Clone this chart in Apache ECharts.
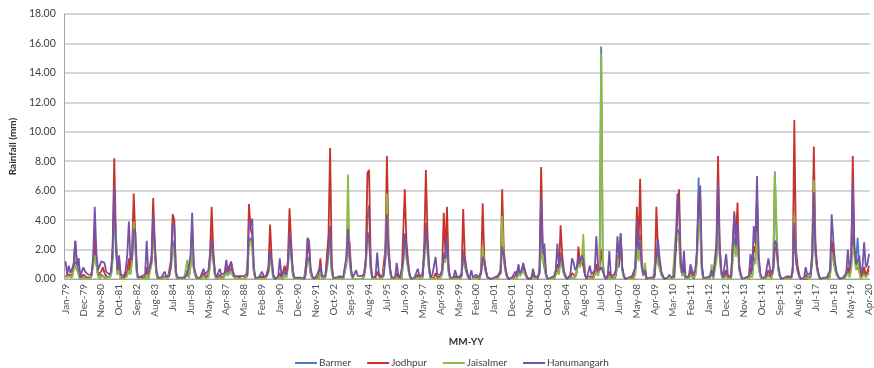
<!DOCTYPE html>
<html>
<head>
<meta charset="utf-8">
<script src="https://cdn.jsdelivr.net/npm/echarts@6/dist/echarts.min.js"></script>
<style>
  html, body { margin: 0; padding: 0; background: #ffffff; }
  #chart { width: 874px; height: 368px; }
</style>
</head>
<body>
<div id="chart"></div>
<script>
// Monthly rainfall (mm), Jan-1979 .. Apr-2020, one row per year
const monthNames = ['Jan','Feb','Mar','Apr','May','Jun','Jul','Aug','Sep','Oct','Nov','Dec'];
const firstYear = 1979;
const lastYear = 2020;
const lastMonth = 4; // Apr-20

const barmer = [
  0.1,0.0,0.2,0.1,0.1,0.7,1.2,1.0,0.3,0.0,0.0,0.1, // 1979
  0.0,0.0,0.0,0.0,0.2,1.0,2.0,1.1,0.2,0.1,0.3,0.4, // 1980
  0.1,0.1,0.1,0.0,0.2,1.5,5.2,2.5,0.3,0.8,0.0,0.1, // 1981
  0.0,0.1,0.3,0.8,0.4,1.5,4.5,2.2,0.2,0.0,0.0,0.0, // 1982
  0.0,0.0,0.4,0.0,0.1,1.2,3.6,1.8,0.3,0.0,0.0,0.0, // 1983
  0.0,0.1,0.0,0.0,0.1,0.9,2.6,2.0,0.3,0.0,0.0,0.0, // 1984
  0.0,0.0,0.0,0.6,0.1,0.9,2.6,0.7,0.2,0.0,0.0,0.0, // 1985
  0.0,0.2,0.0,0.0,0.2,1.0,3.0,1.5,0.2,0.0,0.0,0.1, // 1986
  0.0,0.0,0.1,0.5,0.3,0.4,0.7,0.3,0.1,0.0,0.0,0.0, // 1987
  0.0,0.0,0.0,0.0,0.2,2.6,2.8,2.3,0.5,0.0,0.0,0.0, // 1988
  0.0,0.1,0.0,0.0,0.1,0.5,2.0,0.9,0.1,0.0,0.0,0.0, // 1989
  0.1,0.0,0.0,0.4,0.1,0.9,2.8,1.8,0.3,0.0,0.0,0.0, // 1990
  0.0,0.0,0.0,0.0,0.1,1.2,1.5,0.4,0.1,0.0,0.0,0.0, // 1991
  0.0,0.6,0.0,0.0,0.1,0.8,1.8,3.2,0.5,0.0,0.0,0.0, // 1992
  0.0,0.0,0.1,0.0,0.1,1.0,3.8,1.2,0.3,0.0,0.0,0.0, // 1993
  0.0,0.0,0.0,0.0,0.1,1.0,4.2,5.0,0.7,0.0,0.0,0.0, // 1994
  0.1,0.0,0.0,0.0,0.1,1.4,5.0,1.8,0.4,0.0,0.0,0.0, // 1995
  0.1,0.0,0.0,0.0,1.3,3.0,1.6,0.8,0.2,0.0,0.0,0.0, // 1996
  0.0,0.2,0.0,0.0,0.1,1.5,3.8,2.0,0.5,0.0,0.0,0.0, // 1997
  0.1,0.0,0.0,0.1,0.3,1.8,1.3,2.6,0.5,0.0,0.0,0.0, // 1998
  0.0,0.0,0.0,0.0,0.2,2.0,0.9,0.5,0.1,0.0,0.0,0.0, // 1999
  0.0,0.0,0.0,0.0,0.3,2.0,1.0,0.4,0.1,0.0,0.0,0.0, // 2000
  0.0,0.0,0.0,0.0,0.4,3.6,1.4,0.6,0.1,0.0,0.0,0.0, // 2001
  0.0,0.1,0.0,0.5,0.2,0.4,0.7,0.4,0.1,0.0,0.0,0.0, // 2002
  0.1,0.0,0.0,0.0,0.4,3.0,1.3,1.2,0.2,0.0,0.0,0.0, // 2003
  0.0,0.0,0.1,0.6,0.4,1.8,1.0,0.4,0.1,0.0,0.0,0.0, // 2004
  0.1,0.1,0.1,0.2,1.2,0.9,1.3,1.8,0.3,0.0,0.0,0.1, // 2005
  0.0,0.0,0.1,0.6,0.3,0.8,15.8,1.2,0.1,0.0,0.0,0.2, // 2006
  0.0,0.0,0.0,0.2,1.0,0.8,2.8,0.6,0.1,0.0,0.0,0.0, // 2007
  0.0,0.0,0.0,0.4,2.6,1.4,3.0,0.8,0.2,0.7,0.0,0.0, // 2008
  0.0,0.0,0.0,0.1,2.0,1.2,0.8,0.3,0.1,0.0,0.0,0.0, // 2009
  0.0,0.0,0.0,0.1,2.2,3.4,3.0,0.8,0.2,0.6,0.0,0.0, // 2010
  0.0,0.4,0.2,0.0,0.3,1.4,6.9,4.0,0.6,0.0,0.0,0.0, // 2011
  0.0,0.0,0.6,0.0,0.1,1.5,5.0,1.7,0.4,0.0,0.0,0.3, // 2012
  0.0,0.0,0.0,0.0,2.8,1.8,3.4,0.7,0.2,0.0,0.0,0.0, // 2013
  0.0,0.0,0.4,0.1,1.4,1.2,3.8,0.9,0.2,0.0,0.0,0.0, // 2014
  0.0,0.3,0.1,0.0,0.7,7.3,3.0,0.7,0.2,0.0,0.0,0.0, // 2015
  0.0,0.0,0.0,0.0,0.5,4.0,1.4,0.6,0.2,0.0,0.0,0.0, // 2016
  0.1,0.0,0.0,0.1,1.2,6.0,1.8,0.7,0.2,0.0,0.0,0.0, // 2017
  0.0,0.0,0.0,0.2,2.2,1.4,0.8,0.3,0.1,0.0,0.0,0.0, // 2018
  0.0,0.1,0.5,0.2,0.8,3.0,1.8,1.2,2.8,0.8,0.1,0.2, // 2019
  0.5,0.2,0.3,0.6                                  // 2020
];

const jodhpur = [
  0.2,0.1,0.3,0.2,0.2,1.0,2.6,1.0,1.4,0.0,0.1,0.3, // 1979
  0.2,0.1,0.1,0.1,0.3,1.2,3.0,1.2,0.3,0.2,0.5,0.8, // 1980
  0.4,0.2,0.2,0.1,0.3,2.2,8.2,3.0,0.5,1.2,0.1,0.2, // 1981
  0.1,0.2,0.5,1.4,0.6,2.0,5.8,2.8,0.3,0.0,0.0,0.1, // 1982
  0.1,0.1,0.8,0.1,0.2,1.6,5.5,2.4,0.4,0.0,0.0,0.0, // 1983
  0.0,0.2,0.1,0.0,0.1,1.3,4.4,4.0,0.4,0.0,0.0,0.0, // 1984
  0.0,0.0,0.0,0.4,0.1,1.2,3.6,0.8,0.3,0.0,0.0,0.0, // 1985
  0.1,0.4,0.1,0.1,0.3,1.8,4.9,2.0,0.4,0.0,0.0,0.3, // 1986
  0.1,0.1,0.2,0.8,0.5,0.7,1.2,0.6,0.2,0.0,0.1,0.1, // 1987
  0.1,0.0,0.1,0.1,0.3,5.1,3.4,3.0,0.6,0.0,0.0,0.0, // 1988
  0.1,0.2,0.1,0.0,0.1,0.8,3.7,1.4,0.2,0.0,0.0,0.1, // 1989
  0.4,0.1,0.1,0.9,0.2,1.3,4.8,2.5,0.5,0.0,0.0,0.0, // 1990
  0.0,0.0,0.0,0.0,0.1,1.8,2.4,0.5,0.1,0.0,0.0,0.1, // 1991
  0.2,1.4,0.1,0.0,0.1,1.5,3.0,8.9,1.0,0.0,0.0,0.0, // 1992
  0.0,0.1,0.1,0.0,0.1,1.2,2.8,2.5,0.5,0.0,0.0,0.0, // 1993
  0.1,0.0,0.1,0.0,0.2,1.5,7.2,7.4,1.2,0.0,0.0,0.1, // 1994
  0.5,0.2,0.1,0.0,0.1,2.0,8.35,2.5,0.7,0.0,0.0,0.0, // 1995
  0.4,0.1,0.0,0.1,3.0,6.1,2.6,1.2,0.3,0.0,0.0,0.0, // 1996
  0.0,0.3,0.1,0.0,0.2,2.4,7.4,3.0,0.8,0.0,0.1,0.1, // 1997
  0.4,0.1,0.1,0.2,0.6,4.5,1.8,4.9,0.8,0.0,0.0,0.0, // 1998
  0.2,0.1,0.0,0.0,0.4,4.75,1.5,0.7,0.2,0.0,0.0,0.0, // 1999
  0.1,0.1,0.0,0.0,0.6,5.15,1.4,0.6,0.1,0.0,0.0,0.0, // 2000
  0.0,0.0,0.1,0.0,0.6,6.1,2.0,0.8,0.2,0.0,0.0,0.0, // 2001
  0.1,0.2,0.1,0.7,0.3,0.5,1.0,0.6,0.2,0.0,0.0,0.0, // 2002
  0.3,0.1,0.0,0.0,0.7,7.6,2.0,1.6,0.3,0.0,0.0,0.0, // 2003
  0.0,0.1,0.2,1.0,0.6,3.65,1.6,0.6,0.2,0.0,0.0,0.1, // 2004
  0.4,0.3,0.2,0.4,2.2,1.0,1.4,1.5,0.3,0.0,0.0,0.2, // 2005
  0.1,0.1,0.2,1.0,0.4,0.8,2.0,0.9,0.2,0.0,0.0,0.5, // 2006
  0.1,0.0,0.1,0.3,1.6,1.0,2.6,0.7,0.2,0.0,0.0,0.0, // 2007
  0.0,0.1,0.0,0.6,4.9,2.2,6.8,1.2,0.3,0.5,0.0,0.0, // 2008
  0.0,0.1,0.0,0.2,4.9,2.0,1.2,0.5,0.2,0.0,0.0,0.0, // 2009
  0.1,0.0,0.0,0.1,2.0,4.4,6.1,1.2,0.3,0.9,0.0,0.0, // 2010
  0.1,0.6,0.3,0.1,0.4,2.0,5.0,5.6,0.8,0.0,0.0,0.0, // 2011
  0.0,0.1,0.5,0.1,0.2,2.4,8.35,2.4,0.6,0.0,0.0,0.6, // 2012
  0.1,0.1,0.0,0.1,4.6,2.6,5.2,1.0,0.3,0.0,0.0,0.0, // 2013
  0.0,0.1,0.8,0.3,2.2,1.8,5.6,1.4,0.3,0.0,0.0,0.0, // 2014
  0.1,0.6,0.3,0.1,0.6,2.0,2.2,0.8,0.2,0.0,0.0,0.0, // 2015
  0.0,0.1,0.0,0.0,0.8,10.8,2.0,0.9,0.3,0.0,0.0,0.0, // 2016
  0.3,0.1,0.1,0.2,1.8,9.0,2.4,0.9,0.3,0.0,0.0,0.0, // 2017
  0.1,0.0,0.1,0.3,2.6,1.8,1.0,0.4,0.1,0.0,0.0,0.0, // 2018
  0.1,0.2,0.8,0.3,1.0,8.35,2.0,0.8,0.9,0.6,0.1,0.2, // 2019
  0.8,0.3,0.5,0.9                                  // 2020
];

const jaisalmer = [
  0.1,0.0,0.2,0.1,0.1,0.6,0.9,0.8,0.3,0.0,0.0,0.1, // 1979
  0.0,0.0,0.0,0.0,0.1,0.8,1.6,0.9,0.2,0.0,0.2,0.3, // 1980
  0.1,0.1,0.1,0.0,0.2,1.2,4.0,3.1,0.3,0.6,0.0,0.1, // 1981
  0.0,0.1,0.2,0.6,0.3,1.2,3.9,2.0,0.2,0.0,0.0,0.0, // 1982
  0.0,0.0,0.3,0.0,0.1,1.0,3.1,1.6,0.3,0.0,0.0,0.0, // 1983
  0.0,0.1,0.0,0.0,0.1,0.7,2.2,1.6,0.2,0.0,0.0,0.0, // 1984
  0.0,0.0,0.0,1.3,0.1,0.8,2.4,0.6,0.2,0.0,0.0,0.0, // 1985
  0.0,0.2,0.0,0.0,0.1,0.8,2.5,1.2,0.2,0.0,0.0,0.1, // 1986
  0.0,0.0,0.1,0.4,0.2,0.3,0.5,0.2,0.1,0.0,0.0,0.0, // 1987
  0.0,0.0,0.0,0.0,0.1,2.2,2.6,2.0,0.4,0.0,0.0,0.0, // 1988
  0.0,0.0,0.0,0.0,0.1,0.4,1.6,0.7,0.1,0.0,0.0,0.0, // 1989
  0.1,0.0,0.0,0.3,0.1,0.7,2.2,1.5,0.3,0.0,0.0,0.0, // 1990
  0.0,0.0,0.0,0.0,0.1,1.0,1.2,0.3,0.0,0.0,0.0,0.0, // 1991
  0.0,0.5,0.0,0.0,0.1,0.6,1.5,2.8,0.4,0.0,0.0,0.0, // 1992
  0.0,0.0,0.1,0.0,0.1,0.9,7.1,1.4,0.3,0.0,0.0,0.0, // 1993
  0.0,0.0,0.0,0.0,0.1,0.8,3.0,2.6,0.6,0.0,0.0,0.0, // 1994
  0.1,0.0,0.0,0.0,0.1,1.2,5.8,1.6,0.4,0.0,0.0,0.0, // 1995
  0.1,0.0,0.0,0.0,1.0,2.6,1.4,0.7,0.2,0.0,0.0,0.0, // 1996
  0.0,0.1,0.0,0.0,0.1,1.2,3.0,1.8,0.5,0.0,0.0,0.0, // 1997
  0.1,0.0,0.0,0.1,0.3,1.4,1.1,2.5,0.4,0.0,0.0,0.0, // 1998
  0.0,0.0,0.0,0.0,0.2,1.6,0.8,0.4,0.1,0.0,0.0,0.0, // 1999
  0.0,0.0,0.0,0.0,0.4,2.3,1.0,0.4,0.1,0.0,0.0,0.0, // 2000
  0.0,0.0,0.0,0.0,0.4,4.3,1.3,0.5,0.1,0.0,0.0,0.0, // 2001
  0.0,0.1,0.0,0.4,0.2,0.3,0.6,0.3,0.1,0.0,0.0,0.0, // 2002
  0.1,0.0,0.0,0.0,0.3,2.5,1.2,1.0,0.2,0.0,0.0,0.0, // 2003
  0.0,0.0,0.1,0.5,0.3,1.5,0.8,0.3,0.1,0.0,0.0,0.0, // 2004
  0.1,0.1,0.1,0.2,1.0,0.8,1.2,3.05,0.3,0.0,0.0,0.1, // 2005
  0.0,0.0,0.1,0.5,0.2,0.6,15.3,1.0,0.1,0.0,0.0,0.2, // 2006
  0.0,0.0,0.0,0.1,0.8,0.7,3.1,0.6,0.1,0.0,0.0,0.0, // 2007
  0.0,0.0,0.0,0.3,2.2,1.2,2.6,0.7,0.2,1.1,0.0,0.0, // 2008
  0.0,0.0,0.0,0.1,1.6,1.0,0.7,0.3,0.1,0.0,0.0,0.0, // 2009
  0.0,0.0,0.0,0.1,3.2,3.0,2.4,0.7,0.2,0.4,0.0,0.0, // 2010
  0.0,0.3,0.1,0.0,0.2,1.1,4.0,3.2,0.5,0.0,0.0,0.0, // 2011
  0.0,0.0,1.0,0.0,0.1,1.2,4.2,1.4,0.3,0.0,0.0,0.2, // 2012
  0.0,0.0,0.0,0.0,2.4,1.5,3.0,0.6,0.2,0.0,0.0,0.0, // 2013
  0.0,0.0,0.3,0.1,1.2,1.0,3.2,0.8,0.2,0.0,0.0,0.0, // 2014
  0.0,0.2,0.1,0.0,0.8,7.2,3.8,0.7,0.2,0.0,0.0,0.0, // 2015
  0.0,0.0,0.0,0.0,0.4,4.35,1.2,0.5,0.1,0.0,0.0,0.0, // 2016
  0.1,0.0,0.0,0.1,1.0,6.7,1.6,0.6,0.2,0.0,0.0,0.0, // 2017
  0.0,0.0,0.0,0.1,1.8,1.2,0.6,0.3,0.1,0.0,0.0,0.0, // 2018
  0.0,0.1,0.4,0.1,0.6,2.3,1.6,0.6,1.3,0.4,0.0,0.1, // 2019
  0.3,0.1,0.2,0.4                                  // 2020
];

const hanumangarh = [
  1.2,0.3,0.9,0.4,0.3,1.0,2.6,1.0,1.4,0.1,0.5,0.8, // 1979
  0.5,0.4,0.3,0.2,0.3,1.5,4.9,1.8,0.6,0.9,1.2,1.3, // 1980
  1.1,0.5,0.4,0.3,0.5,1.8,6.3,2.2,0.6,1.6,0.3,0.4, // 1981
  0.2,0.6,1.6,3.9,1.2,1.4,3.4,3.2,0.5,0.1,0.1,0.2, // 1982
  0.2,0.3,2.6,0.4,0.3,1.2,4.4,2.2,0.6,0.1,0.0,0.1, // 1983
  0.1,0.5,0.2,0.1,0.2,1.0,3.8,3.6,0.5,0.1,0.0,0.1, // 1984
  0.1,0.1,0.1,0.3,0.2,1.6,4.5,0.9,0.4,0.1,0.0,0.1, // 1985
  0.2,0.7,0.3,0.2,0.6,1.5,2.7,2.6,0.5,0.1,0.1,0.7, // 1986
  0.3,0.2,0.4,1.3,0.6,0.9,1.1,0.5,0.2,0.1,0.2,0.3, // 1987
  0.2,0.1,0.2,0.3,0.4,3.9,3.6,4.1,0.8,0.1,0.0,0.1, // 1988
  0.3,0.5,0.2,0.1,0.2,0.6,1.9,1.2,0.3,0.0,0.1,0.2, // 1989
  1.4,0.3,0.2,0.5,0.3,1.0,3.1,3.2,0.6,0.1,0.1,0.1, // 1990
  0.1,0.1,0.1,0.0,0.3,2.8,2.6,0.7,0.2,0.0,0.0,0.3, // 1991
  0.3,0.9,0.2,0.1,0.2,1.0,2.0,3.6,0.8,0.1,0.0,0.1, // 1992
  0.1,0.2,0.3,0.1,0.2,1.5,3.4,1.6,0.6,0.1,0.0,0.6, // 1993
  0.2,0.1,0.2,0.1,0.3,1.2,3.2,2.8,0.8,0.1,0.0,0.2, // 1994
  1.8,0.4,0.2,0.1,0.2,1.4,4.4,1.6,0.6,0.1,0.0,0.1, // 1995
  1.1,0.3,0.1,0.2,1.2,3.1,2.0,1.0,0.3,0.0,0.0,0.1, // 1996
  0.1,0.7,0.2,0.1,0.3,1.8,3.2,2.4,0.7,0.1,0.3,0.2, // 1997
  1.5,0.3,0.2,0.3,0.6,1.6,1.4,2.8,0.6,0.1,0.0,0.1, // 1998
  0.6,0.2,0.1,0.1,0.3,1.7,1.2,0.6,0.2,0.0,0.6,0.1, // 1999
  0.2,0.3,0.1,0.0,0.4,1.5,1.2,0.5,0.1,0.0,0.0,0.1, // 2000
  0.1,0.1,0.2,0.1,0.4,2.2,1.6,0.7,0.2,0.0,0.0,0.1, // 2001
  0.3,0.5,0.2,1.0,0.4,0.6,1.1,0.5,0.2,0.0,0.0,0.1, // 2002
  0.7,0.2,0.1,0.1,0.5,5.6,1.8,2.4,0.4,0.0,0.0,0.1, // 2003
  0.1,0.2,0.6,2.4,0.8,1.5,1.2,0.5,0.2,0.0,0.1,0.3, // 2004
  1.4,1.1,0.6,0.8,1.5,1.2,1.6,1.3,0.3,0.0,0.1,0.9, // 2005
  0.3,0.2,0.6,2.9,0.9,0.6,0.8,0.5,0.2,0.0,0.2,1.9, // 2006
  0.2,0.1,0.3,0.6,2.9,1.4,3.1,0.8,0.2,0.0,0.0,0.1, // 2007
  0.1,0.2,0.1,0.8,4.0,2.0,2.5,0.9,0.3,0.6,0.0,0.1, // 2008
  0.1,0.2,0.1,0.3,1.6,2.7,1.4,0.5,0.2,0.0,0.0,0.1, // 2009
  0.3,0.1,0.1,0.2,2.8,5.8,4.6,1.0,0.4,1.9,0.1,0.1, // 2010
  0.2,1.0,0.6,0.3,0.6,1.8,5.6,6.35,1.0,0.1,0.0,0.1, // 2011
  0.1,0.2,0.6,0.2,0.3,2.0,6.6,2.0,0.5,0.1,0.0,1.7, // 2012
  0.3,0.2,0.1,0.2,4.4,2.2,3.8,0.8,0.3,0.0,0.0,0.1, // 2013
  0.1,0.2,1.7,0.6,3.6,2.4,7.0,1.6,0.4,0.1,0.0,0.1, // 2014
  0.2,1.4,0.7,0.3,0.8,2.6,2.4,1.0,0.3,0.0,0.0,0.1, // 2015
  0.1,0.2,0.1,0.1,0.6,3.8,1.2,0.6,0.2,0.0,0.0,0.1, // 2016
  0.8,0.3,0.2,0.4,1.5,5.9,2.0,0.8,0.3,0.0,0.0,0.1, // 2017
  0.2,0.1,0.2,0.6,4.4,2.7,1.2,0.5,0.2,0.0,0.0,0.1, // 2018
  0.2,0.4,2.0,0.6,1.4,6.5,2.2,1.0,1.2,1.6,0.4,0.8, // 2019
  2.5,0.8,1.0,1.7                                  // 2020
];

// Category labels "Mon-YY"
const categories = [];
for (let y = firstYear; y <= lastYear; y++) {
  const months = (y === lastYear) ? lastMonth : 12;
  for (let m = 0; m < months; m++) {
    categories.push(monthNames[m] + '-' + String(y % 100).padStart(2, '0'));
  }
}

const seriesNames = ['Barmer', 'Jodhpur', 'Jaisalmer', 'Hanumangarh'];
const seriesValues = [barmer, jodhpur, jaisalmer, hanumangarh];
const seriesColors = ['#4a7ebb', '#c8322c', '#8fbb45', '#7453a8'];

const FONT = 'Lato, "Liberation Sans", sans-serif';
const chart = echarts.init(document.getElementById('chart'), null, { renderer: 'canvas' });

chart.setOption({
  animation: false,
  backgroundColor: '#ffffff',
  grid: { left: 62, right: 2, top: 14, bottom: 89, containLabel: false },
  legend: {
    data: seriesNames,
    left: 290,
    top: 353,
    icon: 'rect',
    itemWidth: 22,
    itemHeight: 2,
    itemGap: 16,
    textStyle: { fontFamily: FONT, fontSize: 10, color: '#404040', padding: [0, 0, 0, -3] }
  },
  xAxis: {
    type: 'category',
    data: categories,
    boundaryGap: true,
    name: 'MM-YY',
    nameLocation: 'middle',
    nameGap: 58,
    nameTextStyle: { fontFamily: FONT, fontSize: 10, fontWeight: 'bold', color: '#333333', padding: [0, 0, 0, -2] },
    axisLine: { lineStyle: { color: '#a6a6a6', width: 1 } },
    axisTick: { show: false },
    axisLabel: {
      interval: 10,
      rotate: 90,
      margin: 5,
      fontFamily: FONT,
      fontSize: 10,
      color: '#505050'
    },
    splitLine: { show: false }
  },
  yAxis: {
    type: 'value',
    min: 0,
    max: 18,
    interval: 2,
    name: 'Rainfall (mm)',
    nameLocation: 'middle',
    nameGap: 46,
    nameRotate: 90,
    nameTextStyle: { fontFamily: FONT, fontSize: 10, fontWeight: 'bold', color: '#333333' },
    axisLine: { show: true, lineStyle: { color: '#a6a6a6', width: 1 } },
    axisTick: { show: false },
    axisLabel: {
      margin: 9,
      fontFamily: FONT,
      fontSize: 10.5,
      color: '#404040',
      formatter: v => v.toFixed(2)
    },
    splitLine: { lineStyle: { color: '#c6c6c6', width: 1.5 } }
  },
  series: seriesNames.map((name, k) => ({
    name: name,
    type: 'line',
    data: seriesValues[k],
    symbol: 'none',
    smooth: false,
    lineStyle: { color: seriesColors[k], width: 1.8 },
    itemStyle: { color: seriesColors[k] },
    emphasis: { disabled: true }
  }))
});
</script>
</body>
</html>
